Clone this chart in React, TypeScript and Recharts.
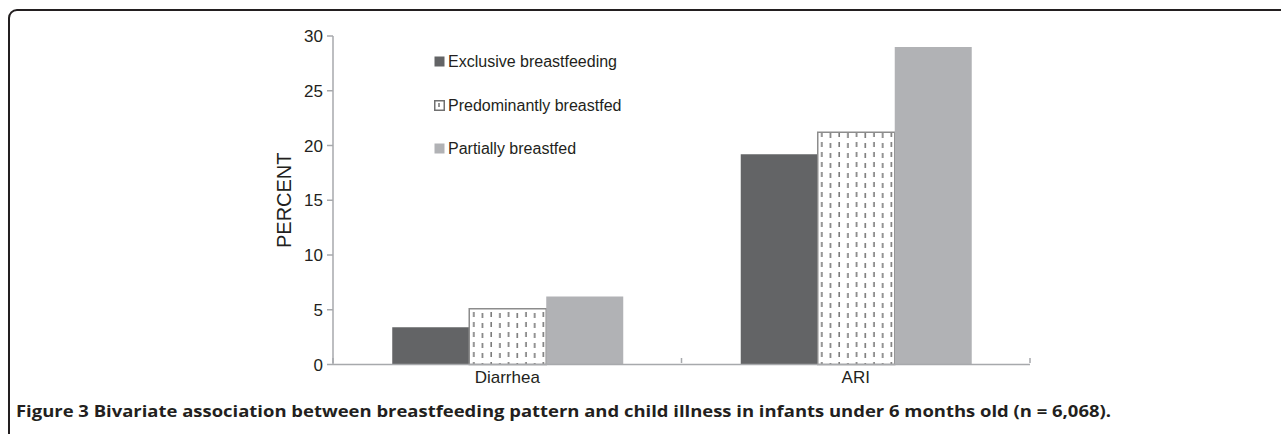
import { BarChart, Bar, XAxis, YAxis } from 'recharts';

const categories = ['Diarrhea', 'ARI'];
const exclusive = [3.4, 19.2];
const predominant = [5.1, 21.2];
const partial = [6.2, 29.0];
const yTicks = [0, 5, 10, 15, 20, 25, 30];
const seriesNames = ['Exclusive breastfeeding', 'Predominantly breastfed', 'Partially breastfed'];

const data = categories.map((c, i) => ({
  name: c,
  exclusive: exclusive[i],
  predominant: predominant[i],
  partial: partial[i],
}));

const textColor = '#231f20';
const axisColor = '#a7a9ac';

// x ticks sit on category boundaries, not centres
const XTick = (props: any) => {
  const { x, y, payload, index, visibleTicksCount } = props;
  const half = payload && payload.offset ? payload.offset : 174;
  const ay = y - 12.5;
  return (
    <g>
      <line x1={x - half} x2={x - half} y1={ay} y2={ay + 5} stroke={axisColor} strokeWidth={1.5} />
      {index === visibleTicksCount - 1 && (
        <line x1={x + half} x2={x + half} y1={ay} y2={ay + 5} stroke={axisColor} strokeWidth={1.5} />
      )}
      <text x={x} y={y} dy="0.71em" textAnchor="middle" fill={textColor} fontSize={17} fontFamily="Liberation Sans, Arial, sans-serif">
        {payload.value}
      </text>
    </g>
  );
};

const LegendBox = () => {
  const swatch = [
    <rect key="a" x={0.5} y={0.5} width={10} height={10} fill="#636466" />,
    <g key="b">
      <rect x={0.75} y={0.75} width={9.5} height={9.5} fill="#fff" stroke="#707070" strokeWidth={1.5} />
      <line x1={5} x2={5} y1={3} y2={7} stroke="#707070" strokeWidth={1.5} />
    </g>,
    <rect key="c" x={0.5} y={0.5} width={10} height={10} fill="#b1b2b5" />,
  ];
  return (
    <div style={{ position: 'absolute', left: 434, top: 40 }}>
      {seriesNames.map((n, i) => (
        <div key={n} style={{ display: 'flex', alignItems: 'center', height: 44, marginTop: i === 0 ? 0 : -0.5 }}>
          <svg width={14} height={12}>{swatch[i]}</svg>
          <span style={{ fontFamily: 'Liberation Sans, Arial, sans-serif', fontSize: 16, color: textColor }}>{n}</span>
        </div>
      ))}
    </div>
  );
};

export default function App() {
  return (
    <div style={{ position: 'absolute', left: 0, top: 0, width: 1281, height: 434, background: '#fff', overflow: 'hidden' }}>
      <svg width={0} height={0} style={{ position: 'absolute' }}>
        <defs>
          <pattern id="dashes" width={17.4} height={10} patternUnits="userSpaceOnUse">
            <rect width={17.4} height={10} fill="#fff" />
            <line x1={4} x2={4} y1={2} y2={7} stroke="#5a5a5a" strokeWidth={1.3} />
            <line x1={12.7} x2={12.7} y1={3} y2={8} stroke="#5a5a5a" strokeWidth={1.3} />
          </pattern>
        </defs>
      </svg>
      <svg width={1281} height={434} style={{ position: 'absolute', left: 0, top: 0 }}>
        <rect x={9} y={10} width={1300} height={460} rx={8} fill="none" stroke={textColor} strokeWidth={2} />
        <text x={16} y={417} fontFamily="Open Sans, Noto Sans, sans-serif" fontWeight="bold" fontSize={16.5} fill={textColor} textLength={1095} lengthAdjust="spacingAndGlyphs">
          Figure 3 Bivariate association between breastfeeding pattern and child illness in infants under 6 months old (n = 6,068).
        </text>
      </svg>
      <div style={{ position: 'absolute', left: 0, top: 0 }}>
        <BarChart
          width={1281}
          height={434}
          data={data}
          margin={{ top: 36, right: 251, bottom: 39.5, left: 270 }}
          barCategoryGap="17%"
          barGap={0}
        >
          <XAxis
            dataKey="name"
            height={30}
            stroke={axisColor}
            strokeWidth={1.5}
            tickLine={false}
            tick={<XTick />}
            tickMargin={0}
            interval={0}
          />
          <YAxis
            width={63}
            domain={[0, 30]}
            ticks={yTicks}
            stroke={axisColor}
            strokeWidth={1.5}
            tickSize={6}
            tickMargin={4}
            tick={{ fill: textColor, fontSize: 17, fontFamily: 'Liberation Sans, Arial, sans-serif' }}
            label={{
              value: 'PERCENT',
              angle: -90,
              position: 'insideLeft',
              offset: 0,
              dx: 14,
              style: { fill: textColor, fontSize: 20, fontFamily: 'Liberation Sans, Arial, sans-serif', textAnchor: 'middle' },
            }}
          />
          <Bar dataKey="exclusive" name={seriesNames[0]} fill="#636466" isAnimationActive={false} />
          <Bar dataKey="predominant" name={seriesNames[1]} fill="url(#dashes)" stroke="#8c8c8c" strokeWidth={1.5} isAnimationActive={false} />
          <Bar dataKey="partial" name={seriesNames[2]} fill="#b1b2b5" isAnimationActive={false} />
        </BarChart>
      </div>
      <LegendBox />
    </div>
  );
}
